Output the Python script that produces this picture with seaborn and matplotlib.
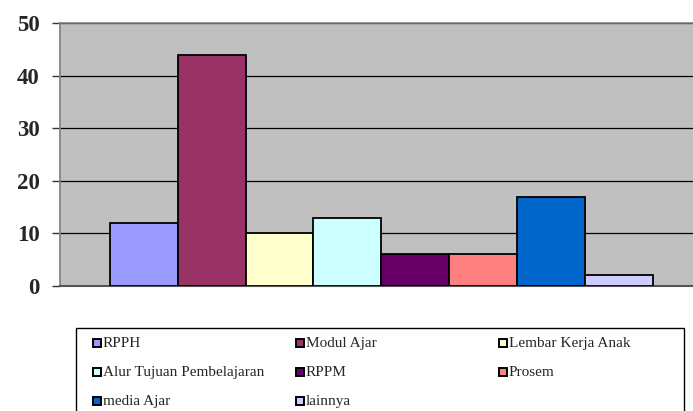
import matplotlib
matplotlib.use("Agg")
import matplotlib.pyplot as plt
from matplotlib.patches import Rectangle
import pandas as pd
import seaborn as sns

# ── Data ──────────────────────────────────────────────
categories = ["RPPH", "Modul Ajar", "Lembar Kerja Anak", "Alur Tujuan Pembelajaran",
              "RPPM", "Prosem", "media Ajar", "lainnya"]
values = [12, 44, 10, 13, 6, 6, 17, 2]
colors = ["#9999FF", "#993366", "#FFFFCC", "#CCFFFF",
          "#660066", "#FF8080", "#0066CC", "#CCCCFF"]
y_ticks = [0, 10, 20, 30, 40, 50]

df = pd.DataFrame({"kategori": categories, "jumlah": values})

sns.set_theme(style="white")
plt.rcParams["font.family"] = ["Liberation Serif", "DejaVu Serif"]

W, H = 693, 411
fig = plt.figure(figsize=(W / 100, H / 100), dpi=100)
ax = fig.add_axes([60 / W, 1 - 286 / H, 640 / W, (286 - 23) / H])
ax.set_facecolor("#C0C0C0")

sns.barplot(data=df, x="kategori", y="jumlah", hue="kategori", order=categories,
            hue_order=categories, palette=colors, saturation=1, width=1.0,
            dodge=False, edgecolor="black", linewidth=1.3, legend=False,
            ax=ax, zorder=3)

ax.set_ylim(0, 50)
ax.set_xlim(-1.235, 8.2)
ax.set_yticks(y_ticks)
ax.set_yticklabels([str(t) for t in y_ticks], fontsize=16.5, fontweight="bold")
ax.yaxis.grid(True, color="black", linewidth=0.9, zorder=0)
ax.set_axisbelow(True)
ax.set_xticks([])
ax.set_xlabel("")
ax.set_ylabel("")
ax.tick_params(axis="y", which="major", direction="out", length=5.5, width=1,
               color="#333333", left=True, pad=9)
for side in ["top", "right"]:
    ax.spines[side].set_color("#808080")
    ax.spines[side].set_linewidth(1.2)
ax.spines["left"].set_color("#808080")
ax.spines["bottom"].set_color("#555555")
ax.spines["bottom"].set_linewidth(1.5)

# ── Legend: fixed grid, row-wise, 3 columns ──────────
box_left, box_top, box_right = 76, 328, 684
fig.patches.append(Rectangle((box_left / W, -0.05), (box_right - box_left) / W,
                             (H - box_top) / H + 0.05, transform=fig.transFigure,
                             facecolor="white", edgecolor="black", linewidth=1.0))
col_x = [93, 296, 499]
row_y = [343, 372, 401]
sq = 8
for i, (lab, col) in enumerate(zip(categories, colors)):
    r, c = divmod(i, 3)
    x0, yc = col_x[c], row_y[r]
    fig.patches.append(Rectangle((x0 / W, 1 - (yc + sq / 2) / H), sq / W, sq / H,
                                 transform=fig.transFigure, facecolor=col,
                                 edgecolor="black", linewidth=1.4))
    fig.text((x0 + sq + 2) / W, 1 - yc / H, lab, fontsize=11,
             ha="left", va="center")

fig.savefig("out.png", dpi=100)
